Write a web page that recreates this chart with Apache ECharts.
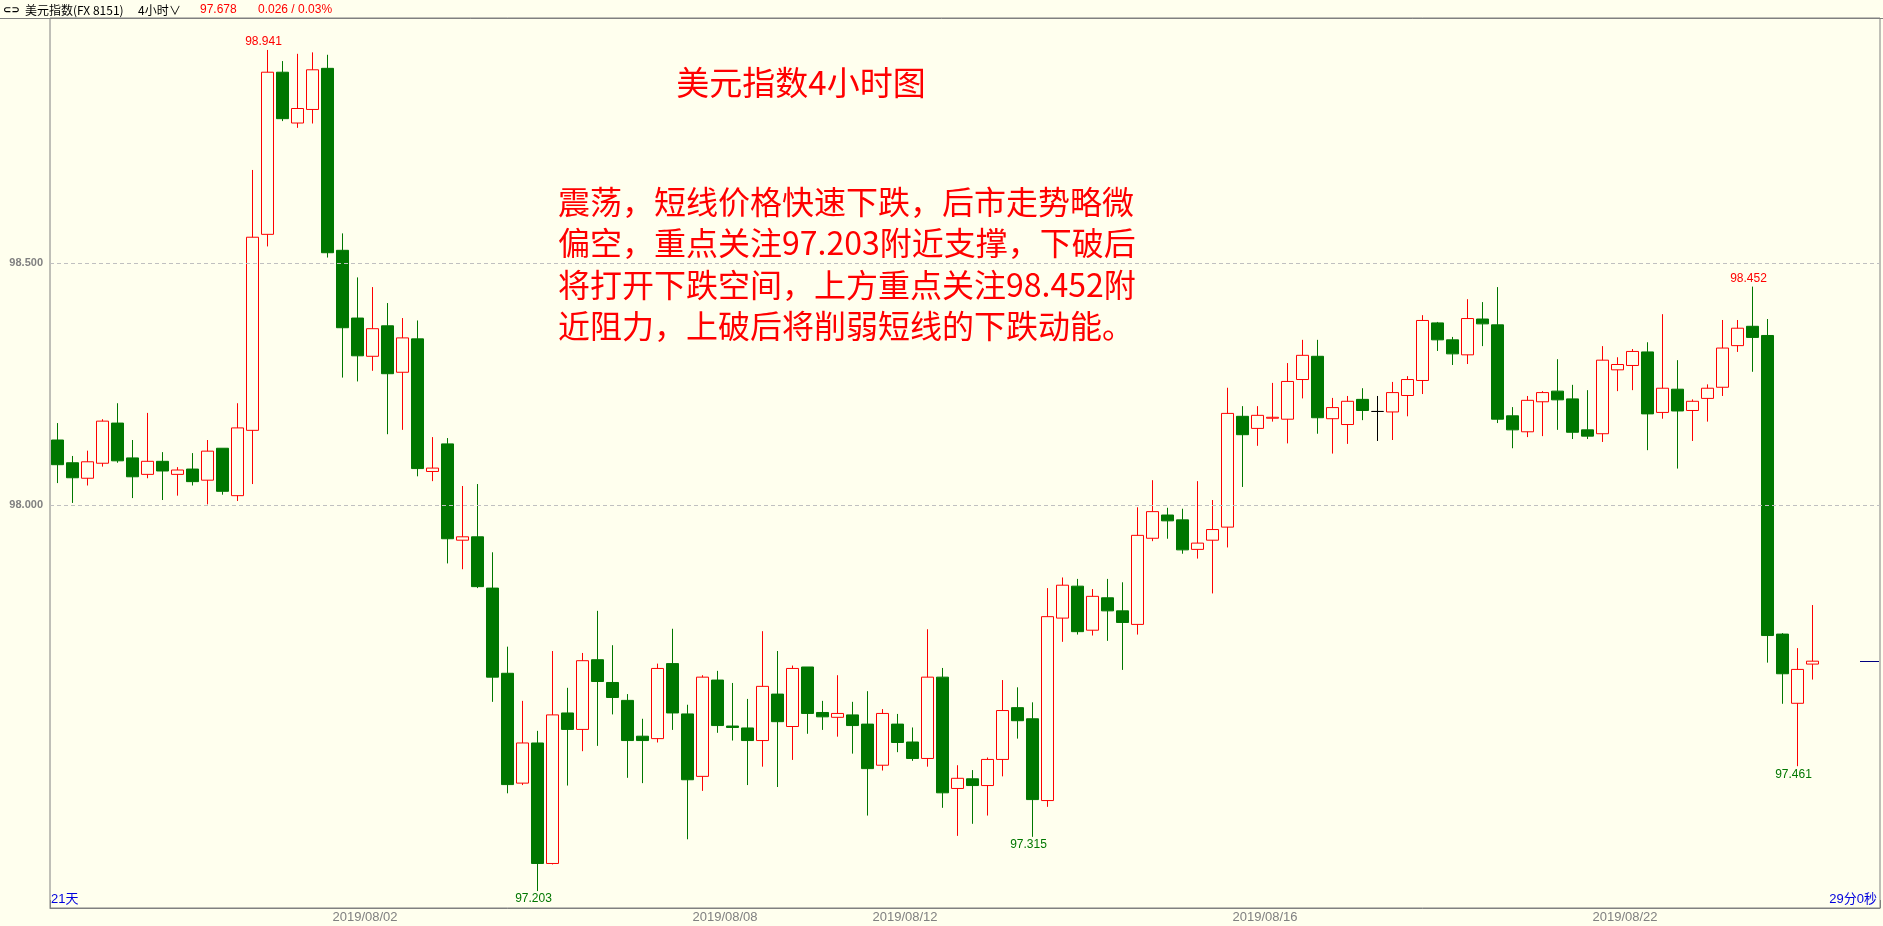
<!DOCTYPE html>
<html><head><meta charset="utf-8">
<script src="https://cdn.jsdelivr.net/npm/echarts@6/dist/echarts.min.js"></script>
<style>html,body{margin:0;padding:0;background:#FFFFEE;}#c{width:1883px;height:926px;}</style>
</head><body><div id="c"></div>
<script>
// ---- data ----
const tradingDays = ['2019/07/29','2019/07/30','2019/07/31','2019/08/01','2019/08/02','2019/08/05','2019/08/06','2019/08/07','2019/08/08','2019/08/09','2019/08/12','2019/08/13','2019/08/14','2019/08/15','2019/08/16','2019/08/19','2019/08/20','2019/08/21','2019/08/22','2019/08/23','2019/08/26'];
const candlesPerDay = [2,6,6,6,6,6,6,6,6,6,6,6,6,6,6,6,6,6,6,6,2];
const openPrices = [98.135,98.088,98.056,98.087,98.170,98.098,98.064,98.091,98.064,98.075,98.052,98.118,98.020,98.155,98.560,98.895,98.790,98.818,98.903,98.527,
98.387,98.308,98.371,98.275,98.344,98.070,98.127,97.928,97.935,97.829,97.653,97.426,97.509,97.260,97.571,97.537,97.681,97.634,97.597,97.523,
97.518,97.673,97.569,97.440,97.639,97.544,97.540,97.514,97.610,97.543,97.666,97.572,97.562,97.567,97.548,97.463,97.548,97.511,97.477,97.645,
97.415,97.435,97.421,97.475,97.582,97.559,97.390,97.767,97.833,97.742,97.809,97.782,97.754,97.932,97.980,97.970,97.909,97.928,97.955,98.184,
98.159,98.180,98.178,98.260,98.308,98.179,98.167,98.219,98.194,98.193,98.227,98.258,98.377,98.342,98.311,98.385,98.373,98.185,98.152,98.214,
98.236,98.220,98.156,98.148,98.280,98.289,98.317,98.192,98.240,98.196,98.221,98.244,98.330,98.370,98.351,97.734,97.591,97.672];
const closePrices = [98.084,98.057,98.090,98.174,98.092,98.059,98.091,98.071,98.073,98.049,98.112,98.029,98.160,98.554,98.895,98.799,98.820,98.900,98.522,98.367,
98.309,98.365,98.272,98.346,98.076,98.077,97.931,97.935,97.832,97.645,97.423,97.509,97.260,97.567,97.537,97.679,97.636,97.603,97.514,97.514,
97.663,97.571,97.433,97.645,97.545,97.541,97.514,97.626,97.553,97.663,97.570,97.563,97.570,97.545,97.456,97.570,97.510,97.477,97.645,97.406,
97.436,97.421,97.475,97.576,97.555,97.392,97.770,97.835,97.739,97.812,97.782,97.758,97.938,97.987,97.968,97.908,97.922,97.950,98.190,98.146,
98.186,98.182,98.256,98.310,98.181,98.202,98.215,98.196,98.194,98.233,98.260,98.382,98.342,98.313,98.386,98.375,98.178,98.156,98.217,98.233,
98.218,98.151,98.143,98.300,98.291,98.318,98.189,98.242,98.195,98.215,98.242,98.325,98.366,98.347,97.731,97.652,97.661,97.678];
const lowPrices = [98.046,98.005,98.041,98.080,98.088,98.015,98.056,98.011,98.020,98.041,98.002,98.022,98.009,98.044,98.535,98.794,98.780,98.789,98.512,98.264,
98.256,98.278,98.147,98.156,98.060,98.050,97.880,97.868,97.829,97.594,97.405,97.422,97.203,97.258,97.421,97.492,97.503,97.568,97.437,97.426,
97.510,97.536,97.310,97.410,97.530,97.514,97.422,97.460,97.418,97.474,97.528,97.536,97.522,97.487,97.359,97.452,97.490,97.472,97.460,97.375,
97.317,97.342,97.359,97.440,97.518,97.315,97.377,97.718,97.733,97.731,97.720,97.660,97.733,97.926,97.931,97.900,97.890,97.818,97.913,98.038,
98.123,98.173,98.128,98.221,98.148,98.107,98.127,98.176,98.133,98.135,98.184,98.230,98.319,98.290,98.292,98.329,98.170,98.118,98.141,98.143,
98.156,98.137,98.137,98.131,98.236,98.238,98.114,98.179,98.076,98.133,98.173,98.226,98.317,98.276,97.675,97.590,97.461,97.640];
const highPrices = [98.170,98.102,98.113,98.178,98.211,98.135,98.191,98.110,98.079,98.108,98.135,98.118,98.211,98.693,98.941,98.918,98.933,98.936,98.931,98.562,
98.471,98.451,98.418,98.387,98.382,98.141,98.139,98.040,98.044,97.903,97.708,97.596,97.534,97.699,97.623,97.695,97.782,97.711,97.610,97.559,
97.673,97.745,97.588,97.649,97.658,97.633,97.600,97.740,97.699,97.669,97.666,97.596,97.649,97.594,97.616,97.579,97.569,97.541,97.744,97.664,
97.463,97.453,97.479,97.639,97.624,97.593,97.829,97.851,97.848,97.827,97.848,97.841,97.996,98.052,97.995,97.993,98.050,98.011,98.243,98.205,
98.205,98.253,98.294,98.342,98.342,98.222,98.226,98.242,98.226,98.255,98.267,98.393,98.379,98.348,98.426,98.420,98.451,98.203,98.226,98.236,
98.302,98.249,98.238,98.329,98.306,98.323,98.337,98.395,98.300,98.219,98.250,98.383,98.383,98.452,98.385,97.736,97.705,97.794];
const tickLabels = ['2019/08/02','2019/08/08','2019/08/12','2019/08/16','2019/08/22'];
const gridValues = [98.0, 98.5];
const gridLabels = ['98.000','98.500'];
const extremeMarks = [[14,'high'],[32,'low'],[65,'low'],[113,'high'],[116,'low']];
const emptySlots = 4;
const titleText = '美元指数4小时图';
const noteLines = ['震荡，短线价格快速下跌，后市走势略微','偏空，重点关注97.203附近支撑，下破后','将打开下跌空间，上方重点关注98.452附','近阻力，上破后将削弱短线的下跌动能。'];
const headerName = '美元指数(FX 8151)';
const headerPeriod = '4小时';
const headerPrice = '97.678';
const headerChange = '0.026 / 0.03%';
const footLeft = '21天';
const footRight = '29分0秒';

// ---- build ----
const categories = [];
tradingDays.forEach((d, di) => { for (let k = 0; k < candlesPerDay[di]; k++) categories.push(d + ' #' + (k + 1)); });
for (let p = 0; p < emptySlots; p++) categories.push('empty ' + p);
const candleData = openPrices.map((o, i) => [o, closePrices[i], lowPrices[i], highPrices[i]]);
const lastDayStart = categories.indexOf(tradingDays[tradingDays.length - 1] + ' #1');
const lastPrice = closePrices[closePrices.length - 1];
const lastSlot = categories.length - 1;

const BG = '#FFFFEE', RED = '#FF0000', GREEN = '#007700';
const numFont = '"Liberation Sans", "Noto Sans CJK SC", sans-serif';
const cjkFont = '"Noto Sans CJK SC", sans-serif';

const markPoints = extremeMarks.map(([i, side]) => {
  const v = side === 'high' ? highPrices[i] : lowPrices[i];
  return {
    coord: [i, v], value: v.toFixed(3),
    label: { position: side === 'high' ? 'top' : 'bottom', color: side === 'high' ? RED : GREEN }
  };
});

const chart = echarts.init(document.getElementById('c'), null, { renderer: 'canvas' });
const graphics = [
  { type: 'line', shape: { x1: 0, y1: 18.5, x2: 1883, y2: 18.5 }, style: { stroke: '#808080', lineWidth: 1 } },
  { type: 'text', x: 3, y: 10, style: { text: '⊂⊃', font: 'bold 10px "DejaVu Sans"', fill: '#000', verticalAlign: 'middle' } },
  { type: 'text', x: 25, y: 10, style: { text: headerName, font: '12px ' + cjkFont, fill: '#000', verticalAlign: 'middle' } },
  { type: 'text', x: 138, y: 10, style: { text: headerPeriod, font: '12px ' + cjkFont, fill: '#000', verticalAlign: 'middle' } },
  { type: 'text', x: 169, y: 10, style: { text: '∨', font: '12px ' + cjkFont, fill: '#000', verticalAlign: 'middle' } },
  { type: 'text', x: 200, y: 10, style: { text: headerPrice, font: '12px ' + numFont, fill: RED, verticalAlign: 'middle' } },
  { type: 'text', x: 258, y: 10, style: { text: headerChange, font: '12px ' + numFont, fill: RED, verticalAlign: 'middle' } },
  { type: 'text', x: 801, y: 82, style: { text: titleText, font: '33px ' + cjkFont, fill: RED, align: 'center', verticalAlign: 'middle' } },
  { type: 'text', x: 51, y: 899, style: { text: footLeft, font: '13px ' + numFont, fill: '#0000DD', verticalAlign: 'middle' } },
  { type: 'text', x: 1877, y: 899, style: { text: footRight, font: '13px ' + numFont, fill: '#0000DD', align: 'right', verticalAlign: 'middle' } }
];
noteLines.forEach((t, j) => graphics.push({ type: 'text', x: 558, y: 202 + j * 41.3,
  style: { text: t, font: '32px ' + cjkFont, fill: RED, verticalAlign: 'middle' } }));

chart.setOption({
  animation: false,
  backgroundColor: BG,
  grid: { left: 50, right: 3, top: 18, bottom: 18, show: true, borderColor: '#808080', borderWidth: 1, backgroundColor: 'transparent' },
  xAxis: {
    type: 'category', data: categories, boundaryGap: true,
    axisLine: { show: true, lineStyle: { color: '#808080', width: 1 } },
    axisTick: { show: true, inside: true, length: 8, interval: (idx) => idx === lastDayStart, lineStyle: { color: '#808080' } },
    axisLabel: {
      interval: (idx, val) => { const [d, k] = val.split(' '); return k === '#1' && tickLabels.includes(d); },
      formatter: (val) => val.split(' ')[0],
      color: '#808080', fontSize: 13, fontFamily: numFont, margin: 3, padding: [0, 0, 0, 15]
    },
    splitLine: { show: false }
  },
  yAxis: { type: 'value', min: 97.168, max: 99.007, show: false, splitLine: { show: false } },
  graphic: graphics,
  series: [{
    type: 'candlestick', data: candleData, barWidth: 12,
    itemStyle: { color: BG, color0: GREEN, borderColor: RED, borderColor0: GREEN, borderColorDoji: '#000000', borderWidth: 1 },
    emphasis: { disabled: true },
    markPoint: {
      symbol: 'circle', symbolSize: 0, silent: true,
      label: { show: true, formatter: '{c}', fontSize: 12, fontFamily: numFont, distance: 2, offset: [-4, 0] },
      data: markPoints
    },
    markLine: {
      symbol: ['none', 'none'], silent: true,
      lineStyle: { type: [4, 3], color: '#C0C0C0', width: 1 },
      label: { position: 'start', color: '#808080', fontSize: 11, fontWeight: 'bold', fontFamily: numFont, distance: 7 },
      emphasis: { disabled: true },
      data: gridValues.map((v, j) => ({ yAxis: v, label: { formatter: gridLabels[j] } })).concat([[
        { xAxis: lastSlot - 1, yAxis: lastPrice, x: 1860, lineStyle: { type: 'solid', color: '#000080', width: 1 }, label: { show: false } },
        { xAxis: lastSlot, yAxis: lastPrice, x: 1879 }
      ]])
    }
  }]
});
</script></body></html>
